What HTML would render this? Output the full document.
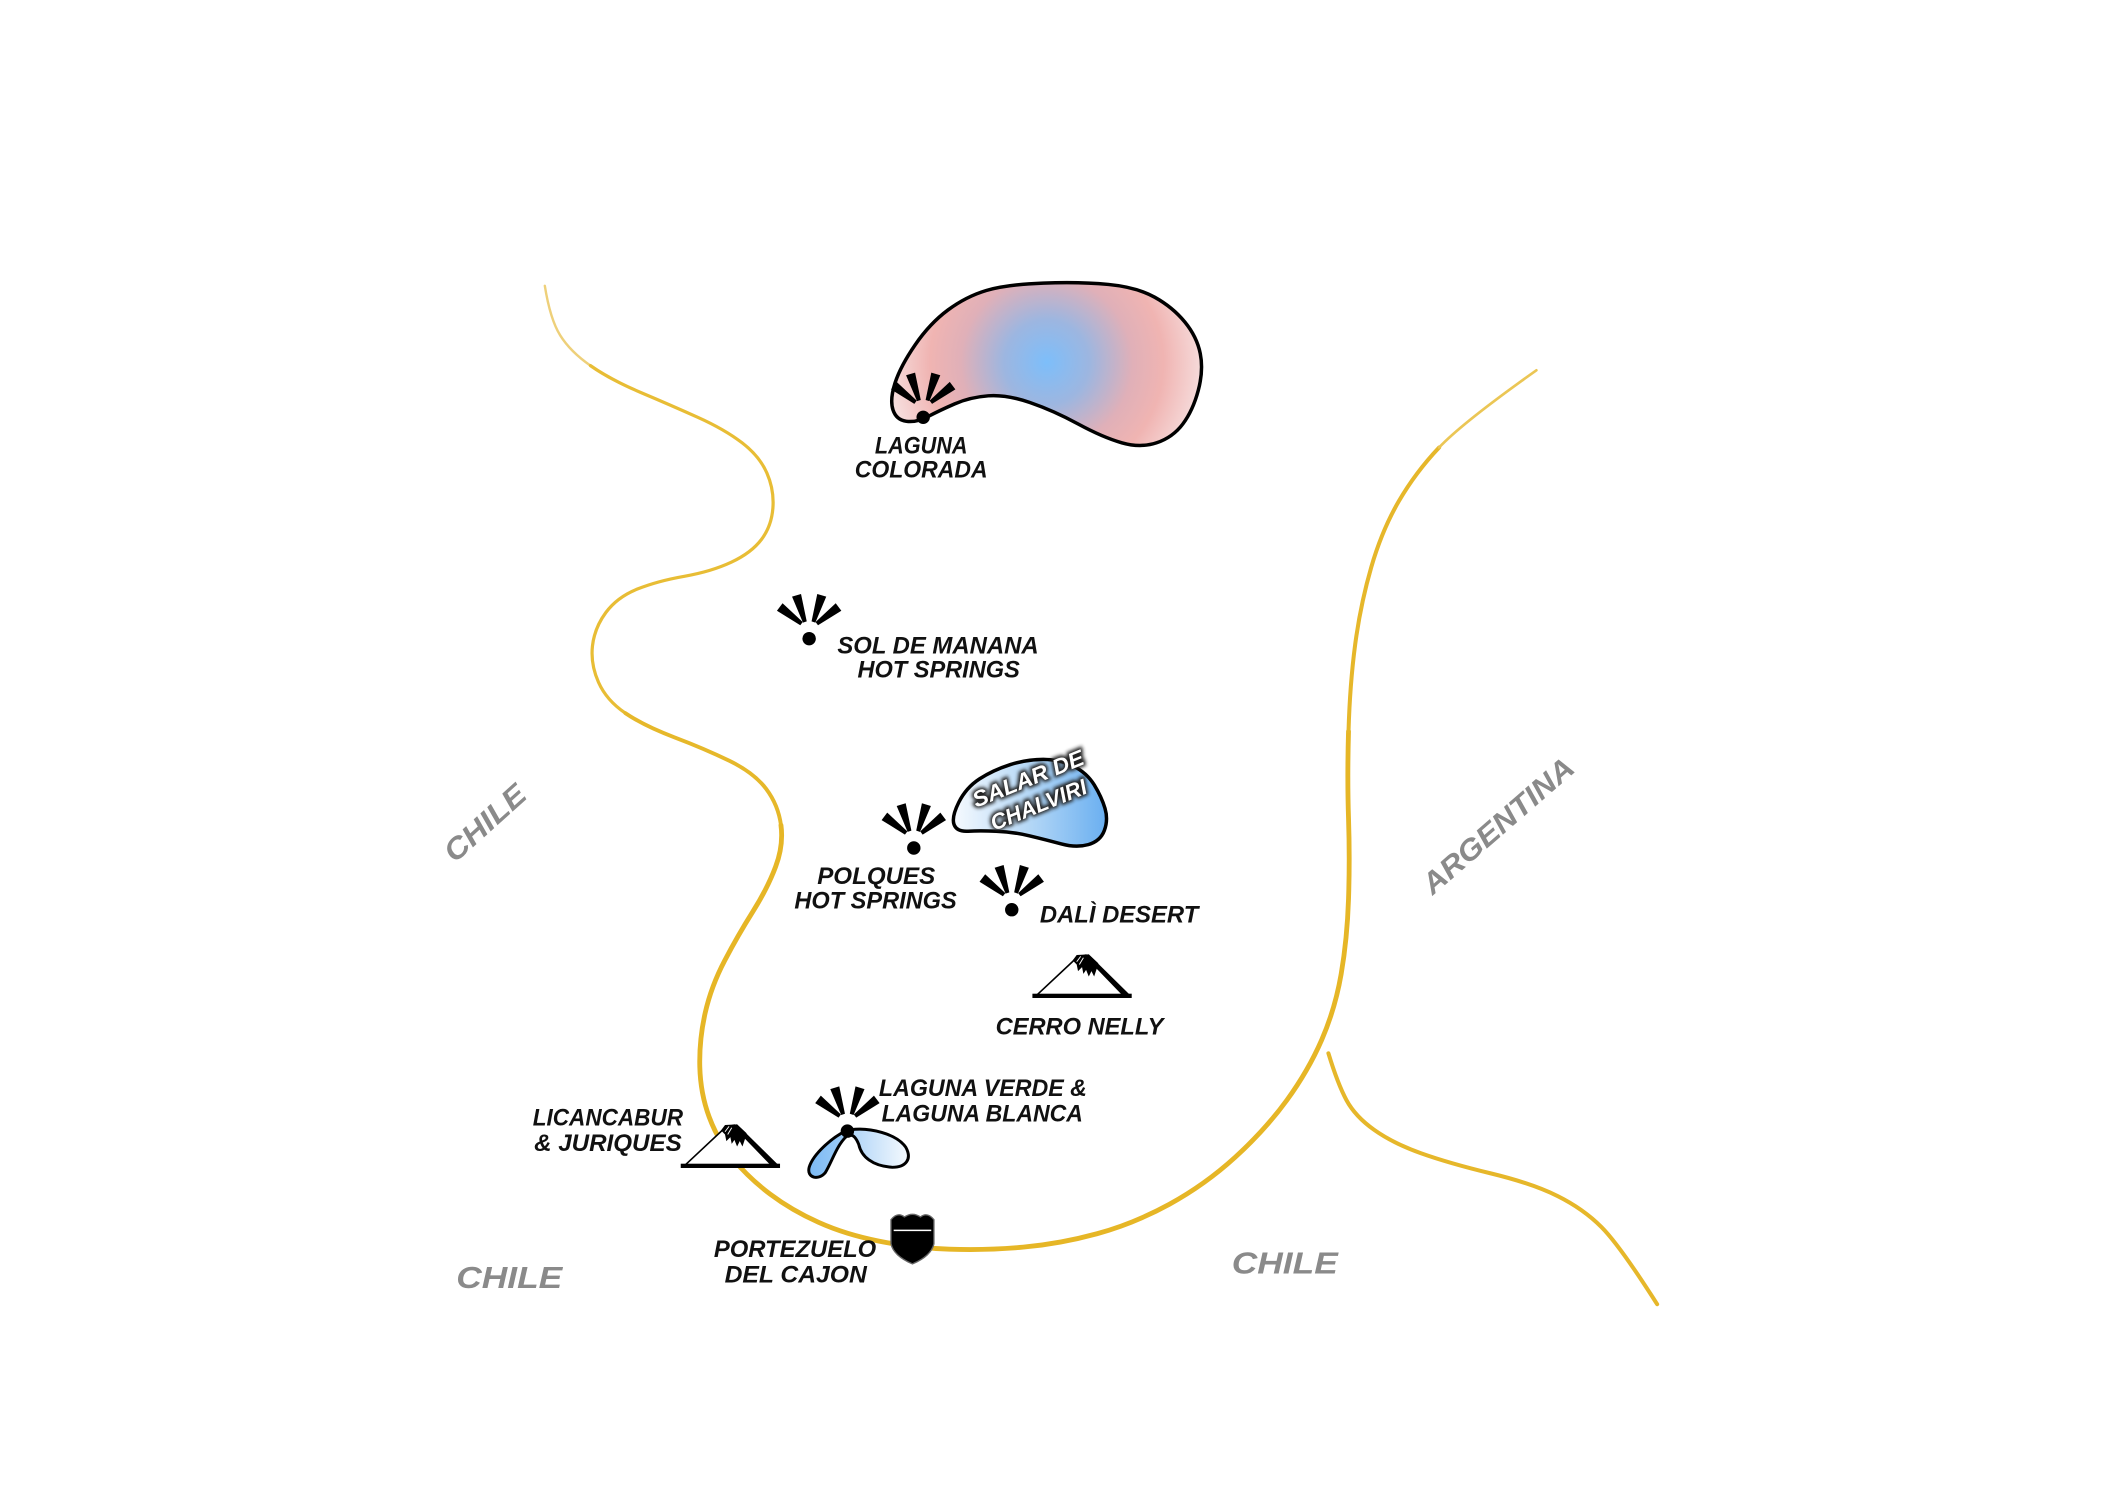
<!DOCTYPE html>
<html>
<head>
<meta charset="utf-8">
<style>
  html,body{margin:0;padding:0;background:#ffffff;}
  body{width:2104px;height:1488px;overflow:hidden;}
  svg{display:block;}
  .lbl{font-family:"Liberation Sans",sans-serif;font-weight:bold;font-style:italic;font-size:18px;fill:#111;}
  .cty{font-family:"Liberation Sans",sans-serif;font-weight:bold;font-style:italic;font-size:22px;fill:#8a8a8a;}
  .salar{font-family:"Liberation Sans",sans-serif;font-weight:bold;font-style:italic;font-size:16.5px;}
</style>
</head>
<body>
<svg width="2104" height="1488" viewBox="0 0 1568 1109" xmlns="http://www.w3.org/2000/svg">
  <defs>
    <radialGradient id="gColorada" gradientUnits="userSpaceOnUse" cx="780" cy="270" r="128">
      <stop offset="0" stop-color="#7dbefa"/>
      <stop offset="0.25" stop-color="#9db6e0"/>
      <stop offset="0.5" stop-color="#e0b0b8"/>
      <stop offset="0.68" stop-color="#f0b4b2"/>
      <stop offset="1" stop-color="#f8ecec"/>
    </radialGradient>
    <linearGradient id="gSalar" gradientUnits="userSpaceOnUse" x1="712" y1="600" x2="826" y2="600">
      <stop offset="0" stop-color="#f4f9fe"/>
      <stop offset="0.5" stop-color="#b2d6f6"/>
      <stop offset="1" stop-color="#68aef0"/>
    </linearGradient>
    <linearGradient id="gVerde" gradientUnits="userSpaceOnUse" x1="603" y1="860" x2="630" y2="860">
      <stop offset="0" stop-color="#7cbaf4"/>
      <stop offset="1" stop-color="#9ccbf6"/>
    </linearGradient>
    <linearGradient id="gBlanca" gradientUnits="userSpaceOnUse" x1="638" y1="855" x2="678" y2="855">
      <stop offset="0" stop-color="#b6d8f8"/>
      <stop offset="1" stop-color="#f6fafe"/>
    </linearGradient>
    <filter id="blur" x="-20%" y="-50%" width="140%" height="200%">
      <feGaussianBlur stdDeviation="1.4"/>
    </filter>
    <g id="gy">
      <polygon points="-19.8,-26.4 -24.0,-20.8 -6.6,-10.0 -4.8,-12.4" fill="#000"/>
      <polygon points="-6.05,-33.3 -12.75,-31.3 -4.6,-12.0 -1.8,-12.9" fill="#000"/>
      <polygon points="6.05,-33.3 12.75,-31.3 4.6,-12.0 1.8,-12.9" fill="#000"/>
      <polygon points="19.8,-26.4 24.0,-20.8 6.6,-10.0 4.8,-12.4" fill="#000"/>
      <circle cx="0" cy="0" r="5" fill="#000"/>
    </g>
    <g id="mt">
      <path d="M0,0 L31,-29 L38,-31 L69,-1 Z" fill="#fff" stroke="#000" stroke-width="1.2" stroke-linejoin="round"/>
      <polygon points="36,-31 40,-31.5 72,0 66,0" fill="#000"/>
      <rect x="-2" y="-2.2" width="74" height="3.2" fill="#000"/>
      <polygon points="28,-27 31,-31 40,-31.5 47,-25 48,-19 46,-21 44,-15 42,-19 40,-15 38,-20 36,-17 35,-22 32,-19 31,-24" fill="#000"/>
      <path d="M31,-26 L34,-30 M33,-24 L36,-29" stroke="#fff" stroke-width="0.7" fill="none"/>
    </g>
  </defs>

  <!-- border lines -->
  <g fill="none" stroke-linecap="round" stroke-linejoin="round">
    <path d="M406,213 Q410,238 417.5,250 Q425,262 440,272.5" stroke="#eed07a" stroke-width="1.8"/>
    <path d="M440,272.5 Q455,283 477.5,292.5 Q500,302 520,311 Q540,320 553,330 Q566,340 571.5,352.5 Q577,365 576,378.5 Q575,392 567.5,402 Q560,412 545,419 Q530,426 510,429.5 Q490,433 475,439 Q460,445 451.5,456.5 Q443,468 441.5,481.5 Q440,495 446,508.5 Q452,522 466,531.5" stroke="#e8bd35" stroke-width="2.4"/>
    <path d="M466,531.5 Q480,541 502.5,549.5 Q525,558 543.5,567 Q562,576 571,588 Q580,600 582,615" stroke="#e6b82a" stroke-width="2.9"/>
    <path d="M582,615 Q584,630 578,646 Q572,662 561,679.5 Q550,697 540,716 Q530,735 525.5,755 Q521,775 521.5,795 Q522,815 528.5,832.5 Q535,850 546.5,864 Q558,878 574,890 Q590,902 610,911 Q630,920 655,925 Q680,930 707.5,931 Q735,932 762.5,929.5 Q790,927 817.5,919.5 Q845,912 871.5,897.5 Q898,883 920.5,862.5 Q943,842 959,820 Q975,798 985,775 Q995,752 999.5,726 Q1004,700 1005,670 Q1006,640 1005,610 Q1004,580 1005,545" stroke="#e6b626" stroke-width="3.6"/>
    <path d="M1005,545 Q1006,510 1010,480 Q1014,450 1022,422.5 Q1030,395 1042.5,373.5 Q1055,352 1072.5,333.5" stroke="#e6b72a" stroke-width="3"/>
    <path d="M1072.5,333.5 Q1090,315 1145,276" stroke="#ebc655" stroke-width="2"/>
    <path d="M990,785 Q997,808 1003.5,820 Q1010,832 1024,842 Q1038,852 1059,859.5 Q1080,867 1111,874.5 Q1142,882 1161,891.5 Q1180,901 1193.5,914.5 Q1207,928 1235,972" stroke="#e6b72a" stroke-width="3"/>
  </g>

  <!-- Laguna Colorada -->
  <path d="M735,216.5 Q750,212 777.5,211 Q805,210 826,212 Q847,214 860.5,221.5 Q874,229 883,240 Q892,251 894.5,263.5 Q897,276 893,291 Q889,306 881.5,316 Q874,326 862,330 Q850,334 836,330 Q822,326 803.5,316 Q785,306 767.5,300 Q750,294 736.5,295 Q723,296 711.5,301 Q700,306 691.5,310.5 Q683,315 675.5,314 Q668,313 665.5,305.5 Q663,298 667,285.5 Q671,273 682,257 Q693,241 706.5,231 Q720,221 735,216.5 Z" fill="url(#gColorada)" stroke="#000" stroke-width="2.6" stroke-linejoin="round"/>
  <use href="#gy" x="688" y="311"/>
  <text class="lbl" x="652" y="338" textLength="69" lengthAdjust="spacingAndGlyphs">LAGUNA</text>
  <text class="lbl" x="637" y="356" textLength="99" lengthAdjust="spacingAndGlyphs">COLORADA</text>

  <!-- Sol de Manana -->
  <use href="#gy" x="603" y="476"/>
  <text class="lbl" x="624" y="487" textLength="150" lengthAdjust="spacingAndGlyphs">SOL DE MANANA</text>
  <text class="lbl" x="639" y="505" textLength="121" lengthAdjust="spacingAndGlyphs">HOT SPRINGS</text>

  <!-- Salar de Chalviri -->
  <path d="M711,614.5 Q709,609 714.5,598 Q720,587 730,580.5 Q740,574 752.5,570 Q765,566 777.5,566 Q790,566 800,571 Q810,576 815.5,585 Q821,594 823.5,602.5 Q826,611 823,619 Q820,627 811,629.5 Q802,632 791,629 Q780,626 767.5,623 Q755,620 742.5,619.5 Q730,619 721.5,619.5 Q713,620 711,614.5 Z" fill="url(#gSalar)" stroke="#000" stroke-width="2.6" stroke-linejoin="round"/>
  <g transform="translate(766,580) rotate(-22)">
    <g filter="url(#blur)">
      <text class="salar" x="0" y="6" text-anchor="middle" textLength="88" lengthAdjust="spacingAndGlyphs" fill="#222" stroke="#222" stroke-width="3">SALAR DE</text>
      <text class="salar" x="0" y="27" text-anchor="middle" textLength="76" lengthAdjust="spacingAndGlyphs" fill="#222" stroke="#222" stroke-width="3">CHALVIRI</text>
    </g>
    <text class="salar" x="0" y="6" text-anchor="middle" textLength="88" lengthAdjust="spacingAndGlyphs" fill="#fff">SALAR DE</text>
    <text class="salar" x="0" y="27" text-anchor="middle" textLength="76" lengthAdjust="spacingAndGlyphs" fill="#fff">CHALVIRI</text>
  </g>

  <!-- Polques -->
  <use href="#gy" x="681" y="632"/>
  <text class="lbl" x="609" y="659" textLength="88" lengthAdjust="spacingAndGlyphs">POLQUES</text>
  <text class="lbl" x="592" y="677" textLength="121" lengthAdjust="spacingAndGlyphs">HOT SPRINGS</text>

  <!-- Dali desert -->
  <use href="#gy" x="754" y="678"/>
  <text class="lbl" x="775" y="687.5" textLength="118" lengthAdjust="spacingAndGlyphs">DALÌ DESERT</text>

  <!-- Cerro Nelly -->
  <use href="#mt" x="771.4" y="742.8"/>
  <text class="lbl" x="742" y="771" textLength="125" lengthAdjust="spacingAndGlyphs">CERRO NELLY</text>

  <!-- Laguna Verde & Blanca -->
  <path d="M630,843 C620,848 606,860 603,870 C601,878 610,880 615,874 C620,866 624,852 632,846 Z" fill="url(#gVerde)" stroke="#000" stroke-width="2.2" stroke-linejoin="round"/>
  <path d="M634,842 C648,840 668,845 675,855 C680,864 675,870 665,870 C650,869 642,862 640,853 C638,848 636,846 634,846 Z" fill="url(#gBlanca)" stroke="#000" stroke-width="2.2" stroke-linejoin="round"/>
  <use href="#gy" x="631.5" y="843"/>
  <text class="lbl" x="655" y="817" textLength="155" lengthAdjust="spacingAndGlyphs">LAGUNA VERDE &amp;</text>
  <text class="lbl" x="657" y="836" textLength="150" lengthAdjust="spacingAndGlyphs">LAGUNA BLANCA</text>

  <!-- Licancabur -->
  <use href="#mt" x="509.3" y="869.5"/>
  <text class="lbl" x="397" y="839" textLength="112" lengthAdjust="spacingAndGlyphs">LICANCABUR</text>
  <text class="lbl" x="398" y="858" textLength="110" lengthAdjust="spacingAndGlyphs">&amp; JURIQUES</text>

  <!-- Portezuelo del Cajon -->
  <path d="M664,909 Q669,903 674,907 Q680,903 686,907 Q691,903 696,909 L696,927 Q694,936 680,942 Q666,936 664,927 Z" fill="#000" stroke="#666" stroke-width="1"/>
  <path d="M666,917 L694,917" stroke="#fff" stroke-width="1.1"/>
  <text class="lbl" x="532" y="937" textLength="121" lengthAdjust="spacingAndGlyphs">PORTEZUELO</text>
  <text class="lbl" x="540" y="956" textLength="106" lengthAdjust="spacingAndGlyphs">DEL CAJON</text>

  <!-- Country labels -->
  <g transform="translate(361,613) rotate(-42)">
    <text class="cty" x="0" y="8" text-anchor="middle" textLength="74" lengthAdjust="spacingAndGlyphs">CHILE</text>
  </g>
  <g transform="translate(1116,615) rotate(-41)">
    <text class="cty" x="0" y="8" text-anchor="middle" textLength="142" lengthAdjust="spacingAndGlyphs">ARGENTINA</text>
  </g>
  <text class="cty" x="340" y="960" textLength="79" lengthAdjust="spacingAndGlyphs" style="font-size:23px">CHILE</text>
  <text class="cty" x="918" y="949" textLength="79" lengthAdjust="spacingAndGlyphs" style="font-size:23px">CHILE</text>
</svg>
</body>
</html>
